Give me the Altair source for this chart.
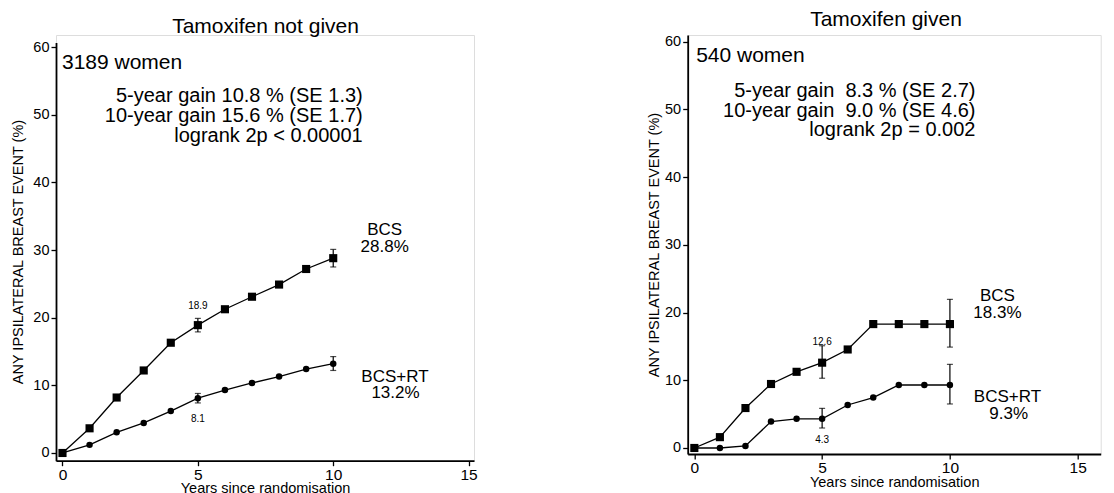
import altair as alt
import pandas as pd

FONT = "Liberation Sans"

years = list(range(11))

# Tamoxifen not given
nt_bcs = [0, 3.65, 8.2, 12.2, 16.3, 18.9, 21.25, 23.1, 24.9, 27.2, 28.8]
nt_rt = [0, 1.2, 3.05, 4.45, 6.2, 8.1, 9.3, 10.35, 11.3, 12.4, 13.2]
nt_err_year = [5, 10, 5, 10]
nt_err_lo = [17.9, 27.5, 7.4, 12.2]
nt_err_hi = [19.9, 30.1, 8.8, 14.25]

# Tamoxifen given
t_bcs = [0, 1.6, 5.9, 9.45, 11.25, 12.6, 14.55, 18.3, 18.3, 18.3, 18.3]
t_rt = [0, 0, 0.3, 3.9, 4.3, 4.3, 6.35, 7.45, 9.3, 9.3, 9.3]
t_err_year = [5, 10, 5, 10]
t_err_lo = [10.3, 14.9, 2.95, 6.5]
t_err_hi = [15.1, 21.95, 5.85, 12.35]

arms = ["BCS", "BCS+RT"]

nt_title = "Tamoxifen not given"
nt_women = "3189 women"
nt_stats = ["5-year gain 10.8 % (SE 1.3)", "10-year gain 15.6 % (SE 1.7)", "logrank 2p < 0.00001"]
nt_labels = ["BCS", "28.8%", "BCS+RT", "13.2%"]
nt_small = ["18.9", "8.1"]

t_title = "Tamoxifen given"
t_women = "540 women"
t_stats = ["5-year gain \u00a08.3 % (SE 2.7)", "10-year gain \u00a09.0 % (SE 4.6)", "logrank 2p = 0.002"]
t_labels = ["BCS", "18.3%", "BCS+RT", "9.3%"]
t_small = ["12.6", "4.3"]

x_ticks = [0, 5, 10, 15]
y_ticks = [0, 10, 20, 30, 40, 50, 60]
x_title = "Years since randomisation"
y_title = "ANY IPSILATERAL BREAST EVENT (%)"


def panel(bcs, rt, ey, elo, ehi, title, women, stats, labels, small,
          xdom, ydom, w, h, top_gap, title_y, stats_pos, women_pos, lab_pos, small_y,
          ytp, xtp):
    df = pd.DataFrame({
        "year": years * 2,
        "value": bcs + rt,
        "arm": [arms[0]] * len(years) + [arms[1]] * len(years),
    })
    err = pd.DataFrame({"year": ey, "lo": elo, "hi": ehi})
    xs = alt.Scale(domain=xdom, nice=False, zero=False)
    ys = alt.Scale(domain=ydom, range=[h, top_gap], nice=False, zero=False)
    xax = alt.Axis(values=x_ticks, title=x_title, grid=False, labelFontSize=15.5,
                   titleFontSize=14.5, titleFontWeight="normal", tickSize=5,
                   labelFlush=False, labelOverlap=False, titlePadding=xtp,
                   domainColor="black", tickColor="black", labelColor="black",
                   titleColor="black", domainWidth=1.8, tickWidth=1.3, labelPadding=1.5)
    yax = alt.Axis(values=y_ticks, title=y_title, grid=False, labelFontSize=14.5,
                   titleFontSize=14.5, titleFontWeight="normal", tickSize=5,
                   labelFlush=False, labelOverlap=False, titlePadding=ytp,
                   domainColor="black", tickColor="black", labelColor="black",
                   titleColor="black", domainWidth=1.8, tickWidth=1.3, labelPadding=2)
    X = alt.X("year:Q", scale=xs, axis=xax)
    Y = alt.Y("value:Q", scale=ys, axis=yax)
    base = alt.Chart(df)
    line = base.mark_line(color="black", strokeWidth=1.3).encode(x=X, y=Y, detail="arm:N")
    sq = base.transform_filter(alt.datum.arm == arms[0]).mark_point(
        shape="square", filled=True, size=66, color="black", opacity=1).encode(x=X, y=Y)
    ci = base.transform_filter(alt.datum.arm == arms[1]).mark_circle(
        size=42, color="black", opacity=1).encode(x=X, y=Y)
    eb = alt.Chart(err)
    rule = eb.mark_rule(color="black", strokeWidth=1.2).encode(
        x=alt.X("year:Q", scale=xs), y=alt.Y("lo:Q", scale=ys), y2="hi:Q")
    cap_lo = eb.mark_tick(orient="horizontal", color="black", size=6, thickness=1.2).encode(
        x=alt.X("year:Q", scale=xs), y=alt.Y("lo:Q", scale=ys))
    cap_hi = eb.mark_tick(orient="horizontal", color="black", size=6, thickness=1.2).encode(
        x=alt.X("year:Q", scale=xs), y=alt.Y("hi:Q", scale=ys))

    tdf = pd.DataFrame({"x": [7.5], "t": [title]})
    ttl = alt.Chart(tdf).mark_text(fontSize=21, font=FONT, color="black", baseline="middle",
                                   align="center").encode(
        x=alt.X("x:Q", scale=xs), y=alt.value(title_y), text="t:N")

    wdf = pd.DataFrame({"x": [women_pos[0]], "y": [women_pos[1]], "t": [women]})
    wm = alt.Chart(wdf).mark_text(fontSize=21, font=FONT, color="black", align="left",
                                  baseline="middle").encode(
        x=alt.X("x:Q", scale=xs), y=alt.Y("y:Q", scale=ys), text="t:N")

    sdf = pd.DataFrame({"x": [stats_pos[0]] * 3, "y": stats_pos[1], "t": stats})
    st = alt.Chart(sdf).mark_text(fontSize=20, font=FONT, color="black", align="right",
                                  baseline="middle").encode(
        x=alt.X("x:Q", scale=xs), y=alt.Y("y:Q", scale=ys), text="t:N")

    ldf = pd.DataFrame({"x": lab_pos[0], "y": lab_pos[1], "t": labels})
    lb = alt.Chart(ldf).mark_text(fontSize=17, font=FONT, color="black", align="center",
                                  baseline="middle").encode(
        x=alt.X("x:Q", scale=xs), y=alt.Y("y:Q", scale=ys), text="t:N")

    mdf = pd.DataFrame({"x": [5, 5], "y": small_y, "t": small})
    mb = alt.Chart(mdf).mark_text(fontSize=10, font=FONT, color="black", align="center",
                                  baseline="middle").encode(
        x=alt.X("x:Q", scale=xs), y=alt.Y("y:Q", scale=ys), text="t:N")

    layers = [line, rule, cap_lo, cap_hi, sq, ci, ttl, wm, st, lb, mb]
    return alt.layer(*layers).properties(width=w, height=h)


left = panel(nt_bcs, nt_rt, nt_err_year, nt_err_lo, nt_err_hi, nt_title, nt_women,
             nt_stats, nt_labels, nt_small,
             xdom=[-0.24, 15.2], ydom=[-1.14, 60.7], w=418, h=425.7, top_gap=7.4,
             title_y=-8.5,
             stats_pos=(11.09, [52.75, 49.8, 46.8]), women_pos=(-0.02, 57.7),
             lab_pos=([11.9, 11.9, 12.28, 12.3], [32.9, 30.4, 11.3, 8.8]),
             small_y=[21.8, 5.07], ytp=7, xtp=-1)

right = panel(t_bcs, t_rt, t_err_year, t_err_lo, t_err_hi, t_title, t_women,
              t_stats, t_labels, t_small,
              xdom=[-0.26, 15.9], ydom=[-0.89, 61.0], w=413, h=419, top_gap=0,
              title_y=-15,
              stats_pos=(11.0, [52.8, 49.8, 46.9]), women_pos=(0.07, 57.95),
              lab_pos=([11.86, 11.86, 12.25, 12.3], [22.5, 20.0, 7.58, 5.07]),
              small_y=[15.6, 1.23], ytp=3, xtp=-1)

chart = alt.hconcat(left, right, spacing=167.7).properties(
    padding={"left": 2, "top": 0, "right": 0, "bottom": 0}
).configure_view(stroke=None).configure(font=FONT)

chart.save("out.html", embed_options={"renderer": "svg", "actions": False})
